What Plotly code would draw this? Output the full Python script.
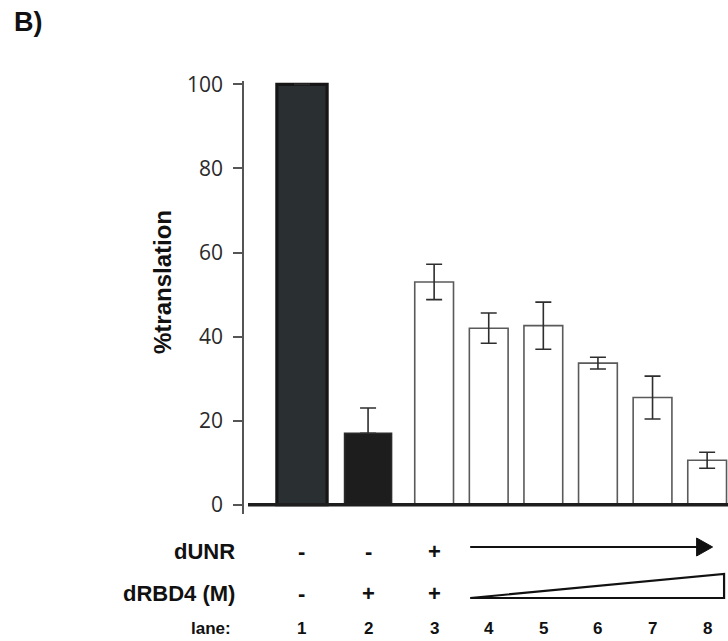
import plotly.graph_objects as go

# ---------------- data ----------------
lanes = ["1", "2", "3", "4", "5", "6", "7", "8"]
translation = [100, 17, 53, 42, 42.6, 33.7, 25.5, 10.6]
errors = [None, 6, 4.2, 3.6, 5.6, 1.4, 5.1, 1.9]
lane_group = [0, 1, 2, 2, 2, 2, 2, 2]          # control, control, titration
dUNR_marks = ["-", "-", "+"]                   # lanes 1-3
dRBD4_marks = ["-", "+", "+"]                  # lanes 1-3
y_ticks = [0, 20, 40, 60, 80, 100]

# ---------------- layout / style ----------------
GROUP_GAP = 0.21
xpos = [i + GROUP_GAP * g for i, g in enumerate(lane_group)]
bar_widths = [0.92, 0.86] + [0.71] * 6
fill_colors = ["#2a2f32", "#1d1d1d"] + ["#ffffff"] * 6
line_colors = ["#161616", "#2a2a2a"] + ["#5a5a5a"] * 6
line_widths = [3.2, 1.6] + [1.6] * 6
dark = [c != "#ffffff" for c in fill_colors]
# the lower whisker is hidden behind dark bars in the original figure
err_minus = [None if e is None else (0 if d else e) for e, d in zip(errors, dark)]

W, H = 728, 641
L, R, T, B = 244, 0, 81, 127
plot_w = W - L - R
plot_h = H - T - B
x_range = [-1.062, 7.802]
y_range = [-2.2, 100.8]


def py(pix):
    """pixel row -> paper y"""
    return (H - B - pix) / plot_h


def px(pix):
    """pixel column -> paper x"""
    return (pix - L) / plot_w


fig = go.Figure()
fig.add_trace(go.Bar(
    x=xpos, y=translation, width=bar_widths,
    marker=dict(color=fill_colors, line=dict(color=line_colors, width=line_widths)),
    error_y=dict(type="data", symmetric=False, array=errors, arrayminus=err_minus,
                 visible=True, color="#2e2e2e", thickness=1.6, width=8),
    hoverinfo="skip", showlegend=False,
))

annotations = []
shapes = []

# baseline
unit_px = plot_w / (x_range[1] - x_range[0])
shapes.append(dict(type="line", xref="x", yref="y",
                   x0=x_range[0] + 4 / unit_px, x1=x_range[1], y0=0, y1=0,
                   line=dict(color="#1e1e1e", width=3.5)))

FAM = "Liberation Sans, Arial"
lab_font = dict(family=FAM, size=22, color="#111")
lane_font = dict(family=FAM, size=17, color="#111")
y_dunr, y_drbd, y_lane = py(551), py(593), py(628)


def ann(text, x, y, xref="paper", xanchor="center", font=lab_font, **kw):
    d = dict(text=text, x=x, y=y, xref=xref, yref="paper", xanchor=xanchor,
             yanchor="middle", showarrow=False, font=font)
    d.update(kw)
    return d


annotations += [
    ann("<b>dUNR</b>", px(237), y_dunr, xanchor="right"),
    ann("<b>dRBD4 (M)</b>", px(237), y_drbd, xanchor="right"),
    ann("<b>lane:</b>", px(233), y_lane, xanchor="right", font=lane_font),
]
for i, m in enumerate(dUNR_marks):
    annotations.append(ann("<b>%s</b>" % m, xpos[i], y_dunr, xref="x"))
for i, m in enumerate(dRBD4_marks):
    annotations.append(ann("<b>%s</b>" % m, xpos[i], y_drbd, xref="x"))
for i, lab in enumerate(lanes):
    annotations.append(ann("<b>%s</b>" % lab, xpos[i], y_lane, xref="x", font=lane_font))

# arrow for dUNR (lanes 4-8)
a0 = xpos[3] - 0.34
a1 = xpos[7] + 0.10
head = 16 / unit_px
ya = py(547)
shapes.append(dict(type="line", xref="x", yref="paper", x0=a0, x1=a1 - head * 0.5,
                   y0=ya, y1=ya, line=dict(color="#111", width=2)))
shapes.append(dict(type="path", xref="x", yref="paper",
                   path="M %f,%f L %f,%f L %f,%f Z" % (a1 - head, py(538), a1 - head, py(556), a1, ya),
                   fillcolor="#111", line=dict(color="#111", width=1)))

# wedge for dRBD4 (lanes 4-8)
w1 = xpos[7] + 0.31
shapes.append(dict(type="path", xref="x", yref="paper",
                   path="M %f,%f L %f,%f L %f,%f Z" % (a0, py(598), w1, py(574), w1, py(598)),
                   fillcolor="#ffffff", line=dict(color="#111", width=2.2)))

# y title and panel label
annotations.append(ann("<b>%translation</b>", px(162), py(282), textangle=-90,
                       font=dict(family=FAM, size=24, color="#111")))
annotations.append(ann("<b>B)</b>", px(12), py(22), xanchor="left",
                       font=dict(family=FAM, size=27, color="#111")))

fig.update_layout(
    width=W, height=H,
    margin=dict(l=L, r=R, t=T, b=B, pad=0),
    paper_bgcolor="white", plot_bgcolor="white",
    annotations=annotations, shapes=shapes,
    xaxis=dict(range=x_range, showticklabels=False, showgrid=False, zeroline=False,
               showline=False, ticks=""),
    yaxis=dict(range=y_range, tickvals=y_ticks, showgrid=False, zeroline=False,
               showline=True, linecolor="#555", linewidth=1.6,
               ticks="outside", ticklen=9, tickwidth=1.5, tickcolor="#555",
               ticklabelstandoff=6,
               tickfont=dict(family="Open Sans", size=21, color="#2a2a2a")),
)

fig.write_html("out.html")
